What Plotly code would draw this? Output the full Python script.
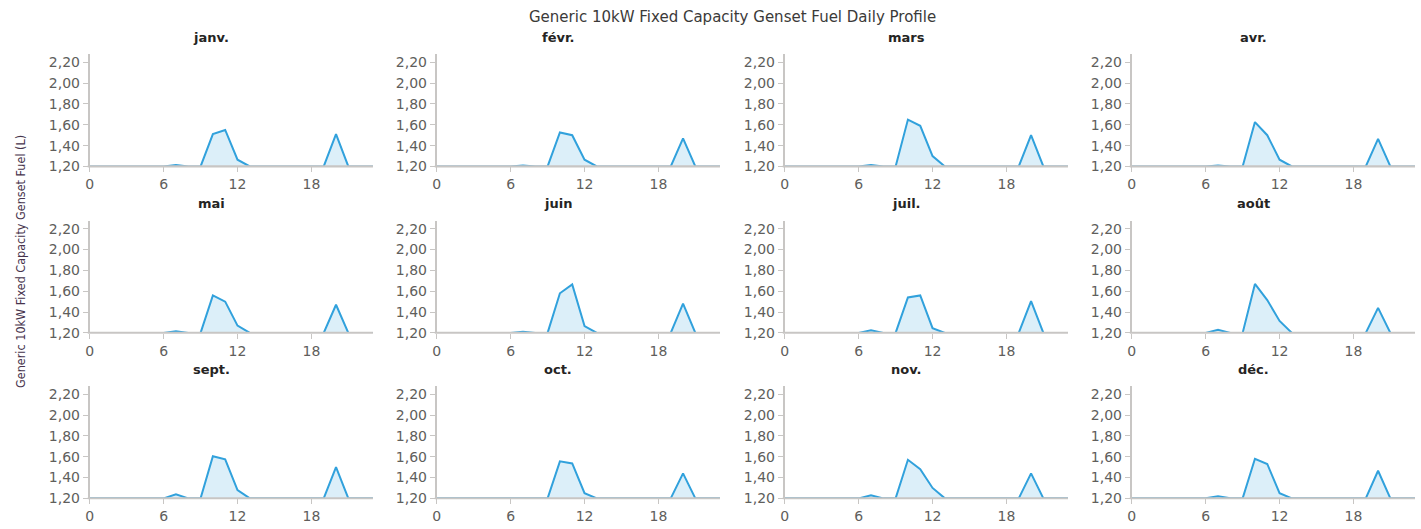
import plotly.graph_objects as go

# Hourly genset fuel use (L), one 24-hour profile per month
hours = list(range(24))
months = ["janv.", "févr.", "mars", "avr.", "mai", "juin",
          "juil.", "août", "sept.", "oct.", "nov.", "déc."]

fuel_janv = [1.20, 1.20, 1.20, 1.20, 1.20, 1.20, 1.20, 1.213, 1.20, 1.20, 1.51, 1.55,
             1.265, 1.20, 1.20, 1.20, 1.20, 1.20, 1.20, 1.20, 1.51, 1.20, 1.20, 1.20]
fuel_fevr = [1.20, 1.20, 1.20, 1.20, 1.20, 1.20, 1.20, 1.21, 1.20, 1.20, 1.526, 1.50,
             1.265, 1.20, 1.20, 1.20, 1.20, 1.20, 1.20, 1.20, 1.47, 1.20, 1.20, 1.20]
fuel_mars = [1.20, 1.20, 1.20, 1.20, 1.20, 1.20, 1.20, 1.213, 1.20, 1.20, 1.65, 1.59,
             1.30, 1.20, 1.20, 1.20, 1.20, 1.20, 1.20, 1.20, 1.50, 1.20, 1.20, 1.20]
fuel_avr = [1.20, 1.20, 1.20, 1.20, 1.20, 1.20, 1.20, 1.21, 1.20, 1.20, 1.626, 1.50,
            1.265, 1.20, 1.20, 1.20, 1.20, 1.20, 1.20, 1.20, 1.465, 1.20, 1.20, 1.20]
fuel_mai = [1.20, 1.20, 1.20, 1.20, 1.20, 1.20, 1.20, 1.216, 1.20, 1.20, 1.56, 1.50,
            1.27, 1.20, 1.20, 1.20, 1.20, 1.20, 1.20, 1.20, 1.47, 1.20, 1.20, 1.20]
fuel_juin = [1.20, 1.20, 1.20, 1.20, 1.20, 1.20, 1.20, 1.21, 1.20, 1.20, 1.58, 1.665,
             1.265, 1.20, 1.20, 1.20, 1.20, 1.20, 1.20, 1.20, 1.48, 1.20, 1.20, 1.20]
fuel_juil = [1.20, 1.20, 1.20, 1.20, 1.20, 1.20, 1.20, 1.226, 1.20, 1.20, 1.54, 1.56,
             1.245, 1.20, 1.20, 1.20, 1.20, 1.20, 1.20, 1.20, 1.505, 1.20, 1.20, 1.20]
fuel_aout = [1.20, 1.20, 1.20, 1.20, 1.20, 1.20, 1.20, 1.23, 1.20, 1.20, 1.67, 1.515,
             1.315, 1.20, 1.20, 1.20, 1.20, 1.20, 1.20, 1.20, 1.44, 1.20, 1.20, 1.20]
fuel_sept = [1.20, 1.20, 1.20, 1.20, 1.20, 1.20, 1.20, 1.24, 1.20, 1.20, 1.605, 1.575,
             1.28, 1.20, 1.20, 1.20, 1.20, 1.20, 1.20, 1.20, 1.50, 1.20, 1.20, 1.20]
fuel_oct = [1.20, 1.20, 1.20, 1.20, 1.20, 1.20, 1.20, 1.205, 1.20, 1.20, 1.555, 1.535,
            1.25, 1.20, 1.20, 1.20, 1.20, 1.20, 1.20, 1.20, 1.44, 1.20, 1.20, 1.20]
fuel_nov = [1.20, 1.20, 1.20, 1.20, 1.20, 1.20, 1.20, 1.23, 1.20, 1.20, 1.57, 1.48,
            1.30, 1.20, 1.20, 1.20, 1.20, 1.20, 1.20, 1.20, 1.44, 1.20, 1.20, 1.20]
fuel_dec = [1.20, 1.20, 1.20, 1.20, 1.20, 1.20, 1.20, 1.22, 1.20, 1.20, 1.58, 1.53,
            1.25, 1.20, 1.20, 1.20, 1.20, 1.20, 1.20, 1.20, 1.465, 1.20, 1.20, 1.20]

profiles = [fuel_janv, fuel_fevr, fuel_mars, fuel_avr, fuel_mai, fuel_juin,
            fuel_juil, fuel_aout, fuel_sept, fuel_oct, fuel_nov, fuel_dec]

x_ticks = [0, 6, 12, 18]
y_ticks = [1.2, 1.4, 1.6, 1.8, 2.0, 2.2]

W, H = 1421, 529
col_left = [86, 434, 783, 1131]
plot_w = 284
row_top = [55, 224, 392]
row_bottom = [169, 338, 506]

LINE = "#31a1dc"
FILL = "rgba(49,161,220,0.17)"
AXIS = "#c8c6c4"
TICKFONT = dict(family="DejaVu Sans", size=14, color="#605e5c")

fig = go.Figure()
layout = {}
annotations = []
shapes = []

for i, (name, vals) in enumerate(zip(months, profiles)):
    r, c = divmod(i, 4)
    n = i + 1
    xa = "x" if n == 1 else f"x{n}"
    ya = "y" if n == 1 else f"y{n}"
    fig.add_trace(go.Scatter(
        x=hours, y=vals, xaxis=xa, yaxis=ya, mode="lines",
        line=dict(color=LINE, width=2), fill="tozeroy", fillcolor=FILL,
        showlegend=False, hoverinfo="x+y",
    ))
    x0 = col_left[c]
    layout["xaxis" if n == 1 else f"xaxis{n}"] = dict(
        domain=[x0 / W, (x0 + plot_w) / W], anchor=ya, range=[0, 23],
        tickvals=x_ticks, ticks="outside", ticklen=5, tickcolor=AXIS,
        showline=False, showgrid=False,
        zeroline=False, tickfont=TICKFONT,
    )
    layout["yaxis" if n == 1 else f"yaxis{n}"] = dict(
        domain=[1 - row_bottom[r] / H, 1 - row_top[r] / H], anchor=xa,
        range=[1.2, 2.278], tickvals=y_ticks, tickformat=".2f",
        ticks="outside", ticklen=5, tickcolor=AXIS,
        showline=True, linecolor=AXIS, linewidth=2, showgrid=False,
        zeroline=False, tickfont=TICKFONT, layer="above traces",
    )
    # baseline axis rule drawn over the plot edge
    yb = 1 - (row_bottom[r] - 0.1) / H
    shapes.append(dict(
        type="line", xref="paper", yref="paper",
        x0=(x0 - 2) / W, x1=(x0 + plot_w) / W, y0=yb, y1=yb,
        line=dict(color=AXIS, width=2.1), layer="above",
    ))
    annotations.append(dict(
        text=f"<b>{name}</b>", x=(x0 + 122) / W, y=1 - (row_top[r] - 17) / H,
        xref="paper", yref="paper", xanchor="center", yanchor="middle",
        showarrow=False, font=dict(family="DejaVu Sans", size=13, color="#252423"),
    ))

annotations.append(dict(
    text="Generic 10kW Fixed Capacity Genset Fuel Daily Profile",
    x=731 / W, y=1 - 17 / H, xref="paper", yref="paper",
    xanchor="center", yanchor="middle", showarrow=False,
    font=dict(family="DejaVu Sans", size=15, color="#3b3a39"),
))
annotations.append(dict(
    text="Generic 10kW Fixed Capacity Genset Fuel (L)",
    x=17 / W, y=1 - 265 / H, xref="paper", yref="paper",
    xanchor="center", yanchor="middle", textangle=-90, showarrow=False,
    font=dict(family="DejaVu Sans Condensed, Liberation Sans Narrow, Liberation Sans",
              size=12.5, color="#46334c"),
))

fig.update_layout(
    **layout,
    annotations=annotations,
    shapes=shapes,
    width=W, height=H,
    margin=dict(l=0, r=0, t=0, b=0),
    paper_bgcolor="white", plot_bgcolor="white",
    separators=", ",
)

fig.write_html("out.html")
